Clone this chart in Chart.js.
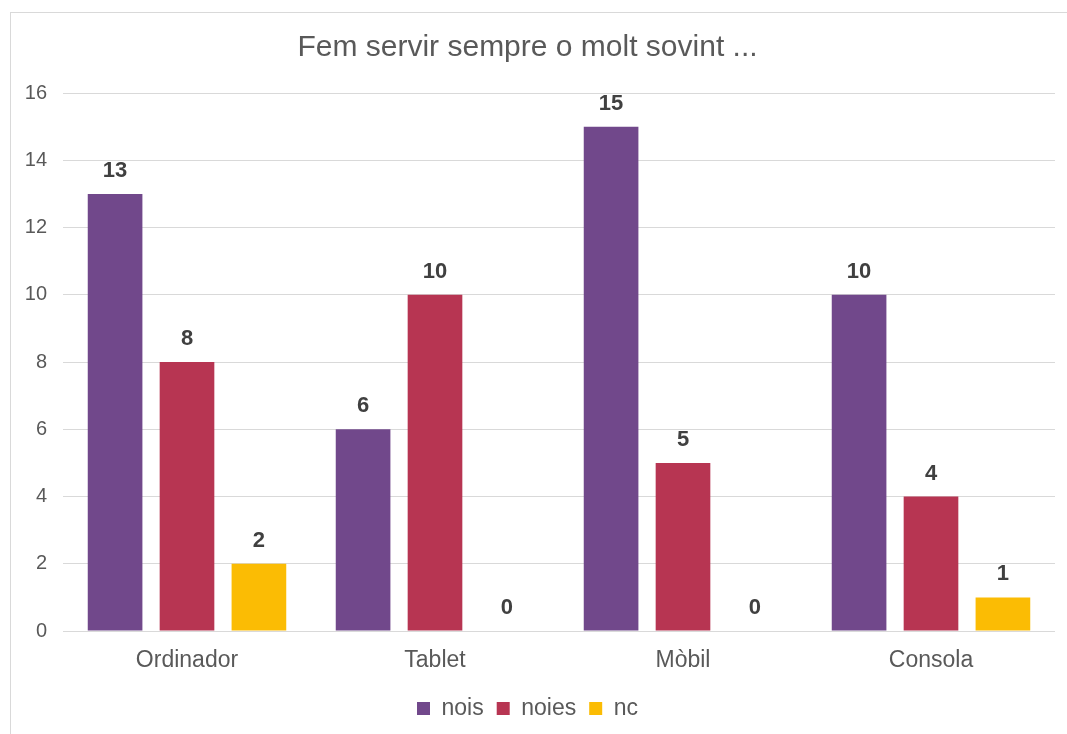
<!DOCTYPE html>
<html>
<head>
<meta charset="utf-8">
<script src="https://cdn.jsdelivr.net/npm/chart.js@4"></script>
<style>
  html, body { margin: 0; padding: 0; background: #fff; overflow: hidden; }
  #frame { position: absolute; left: 10px; top: 12px; width: 1100px; height: 800px; border: 1px solid #d9d9d9; }
  #wrap { position: absolute; left: 0; top: 0; width: 1067px; height: 734px; }
</style>
</head>
<body>
<div id="frame"></div>
<div id="wrap"><canvas id="chart"></canvas></div>
<script>
// Data
var categories = ["Ordinador", "Tablet", "Mòbil", "Consola"];
var nois = [13, 6, 15, 10];
var noies = [8, 10, 5, 4];
var nc = [2, 0, 0, 1];
var yTicks = [0, 2, 4, 6, 8, 10, 12, 14, 16];

var font = "'Liberation Sans', Arial, Helvetica, sans-serif";

// Draws the value above each bar
var valueLabels = {
  id: "valueLabels",
  afterDatasetsDraw: function (chart) {
    var ctx = chart.ctx;
    ctx.save();
    ctx.font = "bold 22px " + font;
    ctx.fillStyle = "#404040";
    ctx.textAlign = "center";
    ctx.textBaseline = "middle";
    chart.data.datasets.forEach(function (ds, i) {
      var meta = chart.getDatasetMeta(i);
      meta.data.forEach(function (bar, j) {
        ctx.fillText(String(ds.data[j]), bar.x, bar.y - 23);
      });
    });
    ctx.restore();
  }
};

var ctx = document.getElementById("chart").getContext("2d");
var chart = new Chart(ctx, {
  type: "bar",
  data: {
    labels: categories,
    datasets: [
      { label: "nois", data: nois, backgroundColor: "#71488b" },
      { label: "noies", data: noies, backgroundColor: "#b73552" },
      { label: "nc", data: nc, backgroundColor: "#fbbc04" }
    ]
  },
  options: {
    responsive: true,
    maintainAspectRatio: false,
    animation: false,
    categoryPercentage: 0.87,
    barPercentage: 0.76,
    layout: { padding: { left: 0, right: 12, top: 0, bottom: 4 } },
    plugins: {
      title: {
        display: true,
        text: "Fem servir sempre o molt sovint ...",
        color: "#595959",
        font: { family: font, size: 30, weight: "normal" },
        padding: { top: 30, bottom: 27 }
      },
      legend: {
        position: "bottom",
        labels: {
          color: "#595959",
          font: { family: font, size: 23 },
          boxWidth: 13,
          boxHeight: 13,
          padding: 13
        }
      },
      tooltip: { enabled: false }
    },
    scales: {
      x: {
        afterFit: function (scale) { scale.height = 53; },
        grid: { display: false },
        border: { display: false },
        ticks: {
          color: "#595959",
          font: { family: font, size: 23 },
          padding: 8
        }
      },
      y: {
        min: 0,
        max: 16,
        afterBuildTicks: function (scale) {
          scale.ticks = yTicks.map(function (v) { return { value: v }; });
        },
        afterFit: function (scale) { scale.width = 63; },
        grid: { color: "#d9d9d9", drawTicks: false },
        border: { display: false },
        ticks: {
          color: "#595959",
          font: { family: font, size: 20 },
          padding: 16
        }
      }
    }
  },
  plugins: [valueLabels]
});
</script>
</body>
</html>
